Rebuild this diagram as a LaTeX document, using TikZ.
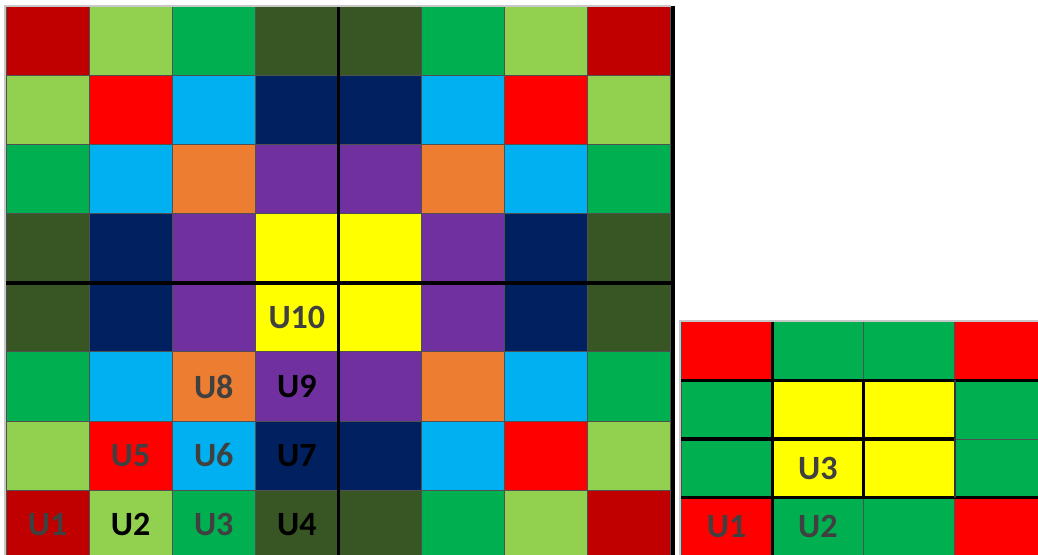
\documentclass[tikz,border=0pt]{standalone}
\usepackage{fontspec}
\setmainfont{Carlito}
\definecolor{dkred}{HTML}{C00000}
\definecolor{ltgrn}{HTML}{92D050}
\definecolor{grn}{HTML}{00B050}
\definecolor{dkgrn}{HTML}{375623}
\definecolor{red1}{HTML}{FF0000}
\definecolor{ltblue}{HTML}{00B0F0}
\definecolor{navy}{HTML}{002060}
\definecolor{orng}{HTML}{ED7D31}
\definecolor{purp}{HTML}{7030A0}
\definecolor{yell}{HTML}{FFFF00}
\definecolor{lblgrey}{HTML}{404040}
\definecolor{cellgrey}{HTML}{505050}
\definecolor{rimgrey}{HTML}{C8C8C8}
\begin{document}
\begin{tikzpicture}[x=0.5pt, y=-0.5pt,
    cell/.style={draw=cellgrey, line width=0.5pt},
    sep/.style={line width=1.6pt, black},
    rim/.style={line width=1pt, rimgrey},
    lbl/.style={font=\fontsize{17}{20}\selectfont\bfseries}]
  \useasboundingbox (0,0) rectangle (1038,555);
  \clip (0,0) rectangle (1038,555);
  % big 8x8 grid
  \foreach \row [count=\i from 0] in {{dkred,ltgrn,grn,dkgrn,dkgrn,grn,ltgrn,dkred},
      {ltgrn,red1,ltblue,navy,navy,ltblue,red1,ltgrn}, {grn,ltblue,orng,purp,purp,orng,ltblue,grn},
      {dkgrn,navy,purp,yell,yell,purp,navy,dkgrn}, {dkgrn,navy,purp,yell,yell,purp,navy,dkgrn},
      {grn,ltblue,orng,purp,purp,orng,ltblue,grn}, {ltgrn,red1,ltblue,navy,navy,ltblue,red1,ltgrn},
      {dkred,ltgrn,grn,dkgrn,dkgrn,grn,ltgrn,dkred}} {
    \foreach \c [count=\j from 0] in \row {
      \filldraw[cell, fill=\c] (6+83.1*\j, 7+69*\i) rectangle ++(83.1,69);
    }
  }
  \draw[rim] (5,560) -- (5,6) -- (671,6);
  \coordinate (bigtop) at (338.4,7);
  \coordinate (bigbot) at (338.4,555);
  \coordinate (bigleft) at (6,283);
  \coordinate (bigright) at (671,283);
  \draw[sep] (bigtop) -- (bigbot);
  \draw[sep] (bigleft) -- (bigright);
  \draw[line width=2.2pt] (673,6) -- (673,555);
  \foreach \n/\i/\j/\t in {1/7/0/lblgrey, 2/7/1/black, 3/7/2/lblgrey, 4/7/3/black,
      5/6/1/lblgrey, 6/6/2/lblgrey, 7/6/3/black, 8/5/2/lblgrey, 9/5/3/black, 10/4/3/lblgrey} {
    \node[lbl, text=\t] (u\n) at (6+83.1*\j+41.55, 7+69*\i+34.5) {U\n};
  }
  % small 4x4 grid
  \foreach \row [count=\i from 0] in {{red1,grn,grn,red1}, {grn,yell,yell,grn},
      {grn,yell,yell,grn}, {red1,grn,grn,red1}} {
    \foreach \c [count=\j from 0] in \row {
      \filldraw[cell, fill=\c] (681+91.3*\j, 322+58.5*\i) rectangle ++(91.3,58.5);
    }
  }
  \draw[rim] (680,560) -- (680,321) -- (1040,321);
  \draw[sep] (772.3,322) -- (772.3,555);
  \draw[sep] (681,380.5) -- (1038,380.5);
  \draw[sep] (681,497.5) -- (1038,497.5);
  \draw[sep] (681,439) -- (954.9,439);
  \draw[sep] (863.6,380.5) -- (863.6,497.5);
  \draw[line width=1pt, black!80] (954.9,380.5) -- (954.9,497.5);
  \foreach \n/\i/\j in {1/3/0, 2/3/1, 3/2/1} {
    \node[lbl, text=lblgrey] (v\n) at (681+91.3*\j+45.65, 322+58.5*\i+29.25) {U\n};
  }
\end{tikzpicture}
\end{document}
